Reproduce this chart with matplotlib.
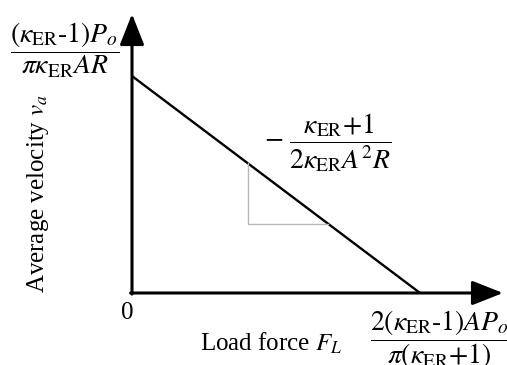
import matplotlib
matplotlib.use("Agg")
import matplotlib.pyplot as plt

plt.rcParams['font.family'] = 'Liberation Serif'
plt.rcParams['mathtext.fontset'] = 'stix'

# schematic load line: velocity drops linearly from no-load to stall
load = [0.0, 1.0]
velocity = [1.0, 0.0]
# slope triangle corners (gray)
tri_x = [0.403, 0.403, 0.682]
tri_y = [0.60, 0.318, 0.318]

xmax, ymax = 1.288, 1.286

fig = plt.figure(figsize=(5.07, 3.65), dpi=100)
ax = fig.add_axes([132 / 507, 72 / 365, 371 / 507, 279 / 365])
ax.set_xlim(0, xmax)
ax.set_ylim(0, ymax)
ax.axis('off')

ax.plot(load, velocity, color='black', lw=1.7, solid_capstyle='butt')
ax.plot(tri_x, tri_y, color='#b8b8b8', lw=1.0)

arrow = dict(arrowstyle='-|>,head_length=1.9,head_width=0.75', color='black',
             lw=2.2, mutation_scale=10, shrinkA=0, shrinkB=0)
ax.annotate('', xy=(0, ymax), xytext=(0, -0.005), arrowprops=arrow,
            annotation_clip=False)
ax.annotate('', xy=(xmax, 0), xytext=(-0.005, 0), arrowprops=arrow,
            annotation_clip=False)

def px(x, y):
    return x / 507, 1 - y / 365

fig.text(*px(65, 50), r'$\dfrac{(\kappa_{\mathrm{ER}}{\text{-}}1)P_o}{\pi\kappa_{\mathrm{ER}}AR}$',
         fontsize=20, ha='center', va='center')
fig.text(*px(328, 143), r'$-\ \dfrac{\kappa_{\mathrm{ER}}{+}1}{2\kappa_{\mathrm{ER}}A^2R}$',
         fontsize=20, ha='center', va='center')
fig.text(*px(440, 340), r'$\dfrac{2(\kappa_{\mathrm{ER}}{\text{-}}1)AP_o}{\pi(\kappa_{\mathrm{ER}}{+}1)}$',
         fontsize=20, ha='center', va='center')
fig.text(*px(127, 313), '0', fontsize=18, ha='center', va='center')
fig.text(*px(271, 343), r'Load force $F_L$', fontsize=18, ha='center', va='center')
fig.text(*px(38, 193), r'Average velocity $v_a$', fontsize=18, ha='center',
         va='center', rotation=90)

fig.savefig('out.png', dpi=100)
